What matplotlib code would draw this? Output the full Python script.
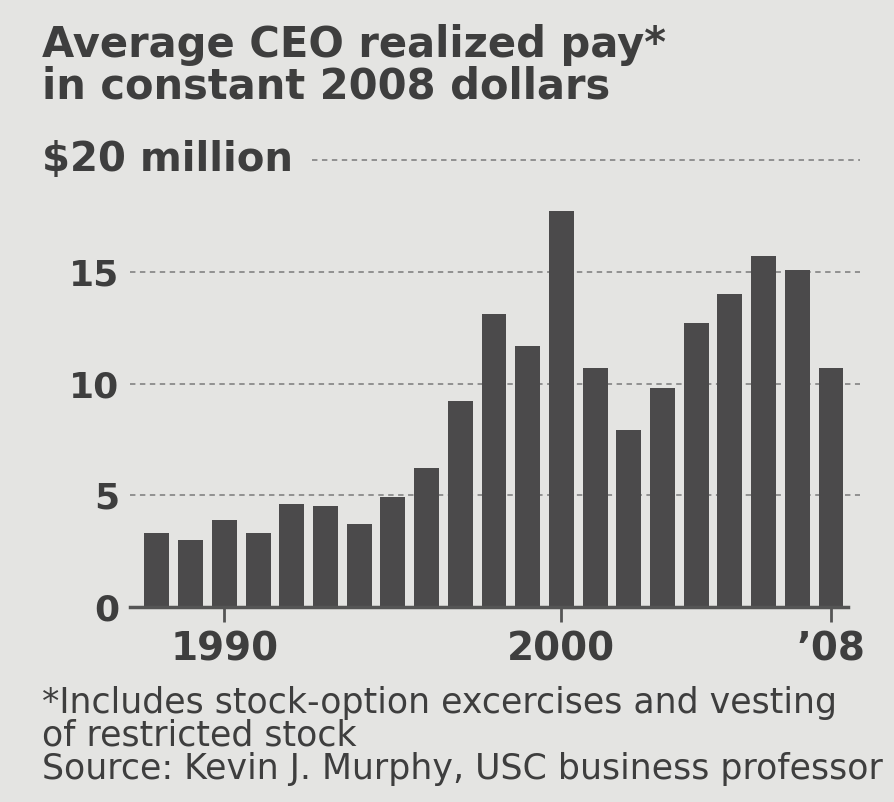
import matplotlib
matplotlib.use("Agg")
import matplotlib.pyplot as plt

years = list(range(1988, 2009))
pay_millions = [3.3, 3.0, 3.9, 3.3, 4.6, 4.5, 3.7, 4.9, 6.2, 9.2, 13.1,
                11.7, 17.7, 10.7, 7.9, 9.8, 12.7, 14.0, 15.7, 15.1, 10.7]
ytick_values = [0, 5, 10, 15]
ytick_labels = ["0", "5", "10", "15"]
xtick_values = [1990, 2000, 2008]
xtick_labels = ["1990", "2000", "\u201908"]

title_lines = ["Average CEO realized pay*", "in constant 2008 dollars"]
top_label = "$20 million"
footnote = ["*Includes stock-option excercises and vesting",
            "of restricted stock",
            "Source: Kevin J. Murphy, USC business professor"]

bg = "#e4e4e2"
ink = "#3e3e3e"
bar_color = "#4b4a4b"
grid_color = "#8a8a8a"

fig = plt.figure(figsize=(8.95, 8.02), dpi=100, facecolor=bg)
ax = fig.add_axes([130 / 895, 1 - 607 / 802, 730 / 895, (607 - 160) / 802])
ax.set_facecolor(bg)

ax.set_xlim(1987.2, 2008.86)
ax.set_ylim(0, 20)

# dotted reference lines
for v in ytick_values[1:]:
    ax.axhline(v, color=grid_color, lw=1.3, ls=(0, (3, 2.5)), zorder=1)
ax.axhline(20, xmin=(312 - 130) / 730, xmax=1, color=grid_color, lw=1.3,
           ls=(0, (3, 2.5)), zorder=1, clip_on=False)

ax.bar(years, pay_millions, width=0.74, color=bar_color, zorder=2)

for s in ["top", "right", "left"]:
    ax.spines[s].set_visible(False)
ax.spines["bottom"].set_color("#555555")
ax.spines["bottom"].set_linewidth(2.5)
ax.spines["bottom"].set_bounds(1987.2, 2008.5)

ax.set_yticks(ytick_values)
ax.set_yticklabels(ytick_labels, fontsize=26, fontweight="bold", color=ink)
ax.tick_params(axis="y", length=0, pad=8)

ax.set_xticks(xtick_values)
ax.set_xticklabels(xtick_labels, fontsize=28, fontweight="bold", color=ink)
ax.tick_params(axis="x", length=11, width=2, color="#555555", pad=6)

fig.text(42 / 895, 1 - 24 / 802, "\n".join(title_lines), ha="left", va="top",
         fontsize=30, fontweight="bold", color=ink, linespacing=0.97)
fig.text(42 / 895, 1 - 160 / 802, top_label, ha="left", va="center",
         fontsize=29, fontweight="bold", color=ink)

fig.text(42 / 895, 1 - 686 / 802, "\n".join(footnote), ha="left", va="top",
         fontsize=25, color=ink, linespacing=0.96)

fig.savefig("out.png", dpi=100, facecolor=bg)
